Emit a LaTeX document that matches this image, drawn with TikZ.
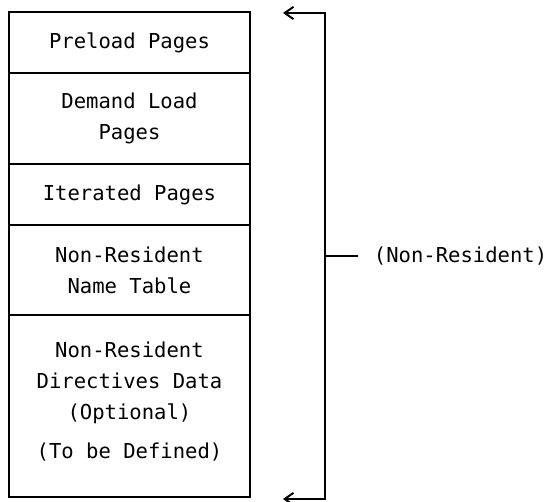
\documentclass[tikz,border=0pt]{standalone}
\usepackage{fontspec}
\setmonofont{DejaVu Sans Mono}
\usepackage{tikz}
\usetikzlibrary{positioning}
\usetikzlibrary{arrows.meta}

\begin{document}
\begin{tikzpicture}[x=0.02cm,y=-0.02cm,line width=1.1pt,node distance=0pt]
        \tikzstyle{segment}=[draw,rectangle,minimum width=4.82cm,inner sep=0pt,outer sep=0pt,align=center,font=\ttfamily\fontsize{11.7}{17.6}\selectfont]
        \tikzstyle{annot}=[inner sep=0pt,font=\ttfamily\fontsize{11.7}{17.6}\selectfont]
        \tikzstyle{barb}=[{Straight Barb[length=5pt,width=7pt]}-{Straight Barb[length=5pt,width=7pt]}]

        % Frame of the picture
        \useasboundingbox (0,0) rectangle (548,502);

        % Segments of the file, top to bottom
        \node[segment, minimum height=1.22cm, anchor=north west] (preload) at (9,12) {Preload Pages};
        \node[segment, minimum height=1.82cm, below=of preload] (demand) {Demand Load\\Pages};
        \node[segment, minimum height=1.22cm, below=of demand] (iter) {Iterated Pages};
        \node[segment, minimum height=1.80cm, below=of iter] (nrname) {Non-Resident\\Name Table};
        \node[segment, minimum height=3.64cm, below=of nrname] (nrdir) {Non-Resident\\Directives Data\\(Optional)\\[4.5pt](To be Defined)\\[-11pt]\mbox{}};

        % Bracket on the right
        \coordinate (topTip) at (283,13);
        \coordinate (topCorner) at (325,13);
        \coordinate (botCorner) at (325,499);
        \coordinate (botTip) at (283,499);
        \coordinate (midTick) at (325,256);
        \coordinate (tickEnd) at (358,256);
        \node[annot, right=0.3cm of tickEnd] (nrlabel) {(Non-Resident)};

        \draw[barb] (topTip) -- (topCorner) -- (botCorner) -- (botTip);
        \draw (midTick) -- (tickEnd);
    \end{tikzpicture}
\end{document}
